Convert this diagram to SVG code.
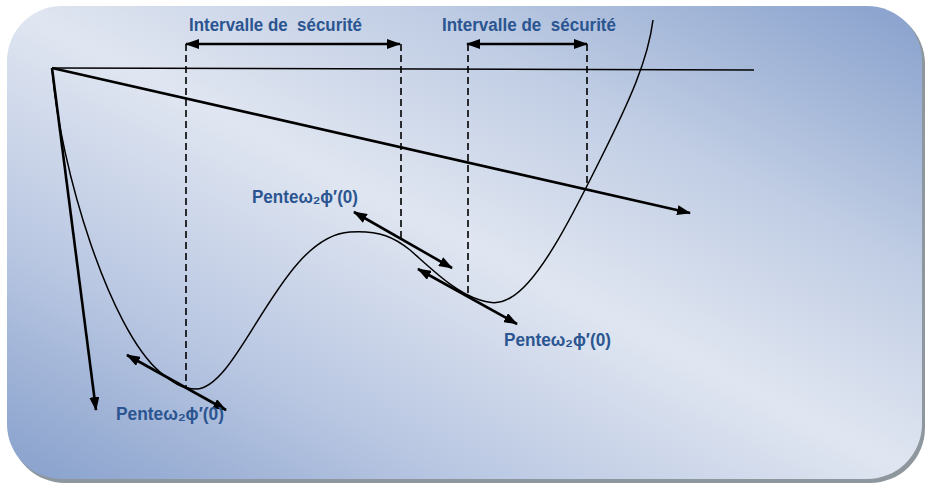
<svg xmlns="http://www.w3.org/2000/svg" width="926" height="485" viewBox="0 0 926 485">
<defs>
<linearGradient id="bg" gradientUnits="userSpaceOnUse" x1="272" y1="615" x2="658" y2="-131">
<stop offset="0" stop-color="#87a0cc"/>
<stop offset="0.25" stop-color="#b9c7e2"/>
<stop offset="0.5" stop-color="#e0e6f1"/>
<stop offset="0.72" stop-color="#c0cde4"/>
<stop offset="1" stop-color="#87a0cc"/>
</linearGradient>
<marker id="ah" viewBox="0 0 14 10" refX="13" refY="5" markerWidth="14" markerHeight="10" markerUnits="userSpaceOnUse" orient="auto-start-reverse">
<path d="M0,0 L14,5 L0,10 Z" fill="#000"/>
</marker>
<style>
.lbl{font-family:"Liberation Sans",Arial,sans-serif;font-weight:bold;font-size:18px;fill:#2b5590}
.arr{stroke:#000;stroke-width:2.6;fill:none}
.dash{stroke:#000;stroke-width:1.6;stroke-dasharray:7,4;fill:none}
.thin{stroke:#000;stroke-width:1.5;fill:none}
</style>
</defs>
<g id="background">
<rect x="10" y="9" width="915" height="474" rx="55" ry="55" fill="#8e979d"/>
<rect x="7" y="6" width="915" height="473" rx="55" ry="55" fill="url(#bg)"/>
</g>
<g id="connectors">
<line class="thin" x1="52" y1="68" x2="754" y2="70"/>
<line class="arr" x1="52" y1="68" x2="690" y2="213" marker-end="url(#ah)"/>
<line class="arr" x1="52" y1="68" x2="96" y2="410" marker-end="url(#ah)"/>
<path class="thin" d="M52,68 C60,170 110,330 160,372 C172,382 182,389 196,389 C240,388 280,236 350,232 C380,230 395,238 410,250 C435,272 455,292 480,300 C490,303 498,305 510,298 C540,282 575,210 600,160 C630,100 648,60 653,20"/>
<line class="dash" x1="186" y1="44" x2="186" y2="388"/>
<line class="dash" x1="401" y1="44" x2="401" y2="241"/>
<line class="dash" x1="468" y1="44" x2="468" y2="295"/>
<line class="dash" x1="587" y1="44" x2="587" y2="185"/>
<line class="arr" x1="186" y1="44" x2="400" y2="44" marker-start="url(#ah)" marker-end="url(#ah)"/>
<line class="arr" x1="467" y1="44" x2="587" y2="44" marker-start="url(#ah)" marker-end="url(#ah)"/>
<line class="arr" x1="127" y1="355" x2="226" y2="410" marker-start="url(#ah)" marker-end="url(#ah)"/>
<line class="arr" x1="354" y1="212" x2="452" y2="268" marker-start="url(#ah)" marker-end="url(#ah)"/>
<line class="arr" x1="418" y1="269" x2="517" y2="324" marker-start="url(#ah)" marker-end="url(#ah)"/>
</g>
<g id="label-interval-1"><text class="lbl" x="189" y="31" textLength="173" lengthAdjust="spacingAndGlyphs" xml:space="preserve">Intervalle de  sécurité</text></g>
<g id="label-interval-2"><text class="lbl" x="442" y="31" textLength="174" lengthAdjust="spacingAndGlyphs" xml:space="preserve">Intervalle de  sécurité</text></g>
<g id="label-pente-1"><text class="lbl" x="252" y="203" textLength="106" lengthAdjust="spacingAndGlyphs">Penteω₂ϕ′(0)</text></g>
<g id="label-pente-2"><text class="lbl" x="504" y="346" textLength="107" lengthAdjust="spacingAndGlyphs">Penteω₂ϕ′(0)</text></g>
<g id="label-pente-3"><text class="lbl" x="116" y="420" textLength="108" lengthAdjust="spacingAndGlyphs">Penteω₂ϕ′(0)</text></g>
</svg>
